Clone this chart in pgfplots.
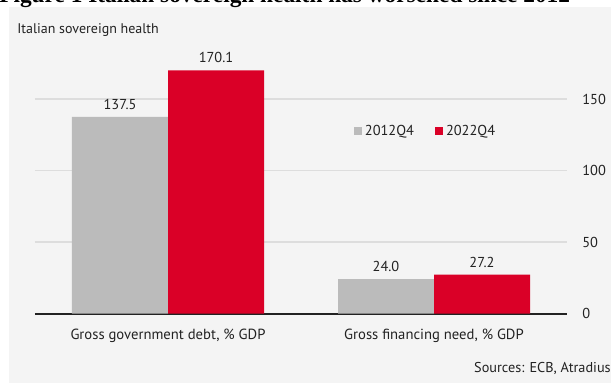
\documentclass[border=0pt]{standalone}
\usepackage{pgfplots}
\pgfplotsset{compat=1.18}
\usepackage{fontspec}
\setmainfont{PT Sans}
\newfontfamily\titlefont{Liberation Serif}
\definecolor{panel}{HTML}{F4F4F4}
\definecolor{barg}{HTML}{BBBBBB}
\definecolor{barr}{HTML}{DA0027}
\definecolor{gridc}{HTML}{DDDDDD}
\definecolor{txt}{HTML}{222222}
\begin{document}
\begin{tikzpicture}[x=0.75pt,y=0.75pt]
\fill[panel] (9,0) rectangle (611,376);
\node[anchor=base west,inner sep=0pt,font=\titlefont\bfseries\fontsize{17.5}{20}\selectfont] at (-1,380) {Figure 1 Italian sovereign health has worsened since 2012};
\node[anchor=west,inner sep=0pt,text=txt,font=\fontsize{10.5}{12}\selectfont] at (17,353) {Italian sovereign health};
\node[anchor=east,inner sep=0pt,text=txt,font=\fontsize{10.7}{12}\selectfont] at (611,15) {Sources: ECB, Atradius};
\begin{axis}[
  at={(26.25pt,52.125pt)}, anchor=south west,
  scale only axis, width=399pt, height=193.05pt,
  xmin=-0.5, xmax=1.5, ymin=0, ymax=180,
  ybar=0pt, bar width=72pt,
  axis line style={draw=none},
  major tick length=0pt,
  xtick={0,1},
  xticklabels={{Gross government debt, \% GDP}, {Gross financing need, \% GDP}},
  xticklabel style={text=txt,font=\fontsize{11}{12}\selectfont,yshift=-8pt},
  ytick={50,100,150},
  extra y ticks={0},
  extra y tick style={grid style={draw=txt,line width=1.5pt}},
  yticklabel pos=right,
  yticklabel style={text=txt,font=\fontsize{10.8}{12}\selectfont,anchor=west,xshift=8pt},
  /pgf/number format/assume math mode=true,
  ymajorgrids, grid style={draw=gridc,line width=0.8pt},
  nodes near coords,
  nodes near coords style={text=txt,font=\fontsize{10.8}{12}\selectfont,
     /pgf/number format/fixed,/pgf/number format/precision=1,/pgf/number format/fixed zerofill,
     /pgf/number format/assume math mode=true, yshift=2pt},
  legend style={at={(0.735,0.709)},anchor=center,draw=none,fill=none,
    legend columns=2,font=\fontsize{10.8}{12}\selectfont,text=txt,
    /tikz/every even column/.append style={column sep=14pt}},
]
\addplot[fill=barg,draw=none,legend image code/.code={\fill[barg] (0pt,-3pt) rectangle (6pt,3pt);}] coordinates {(0,137.5) (1,24.0)};
\addplot[fill=barr,draw=none,legend image code/.code={\fill[barr] (0pt,-3pt) rectangle (6pt,3pt);}] coordinates {(0,170.1) (1,27.2)};
\legend{2012Q4,2022Q4}
\end{axis}
\pgfresetboundingbox
\useasboundingbox (0,0) rectangle (611,383);
\end{tikzpicture}
\end{document}
